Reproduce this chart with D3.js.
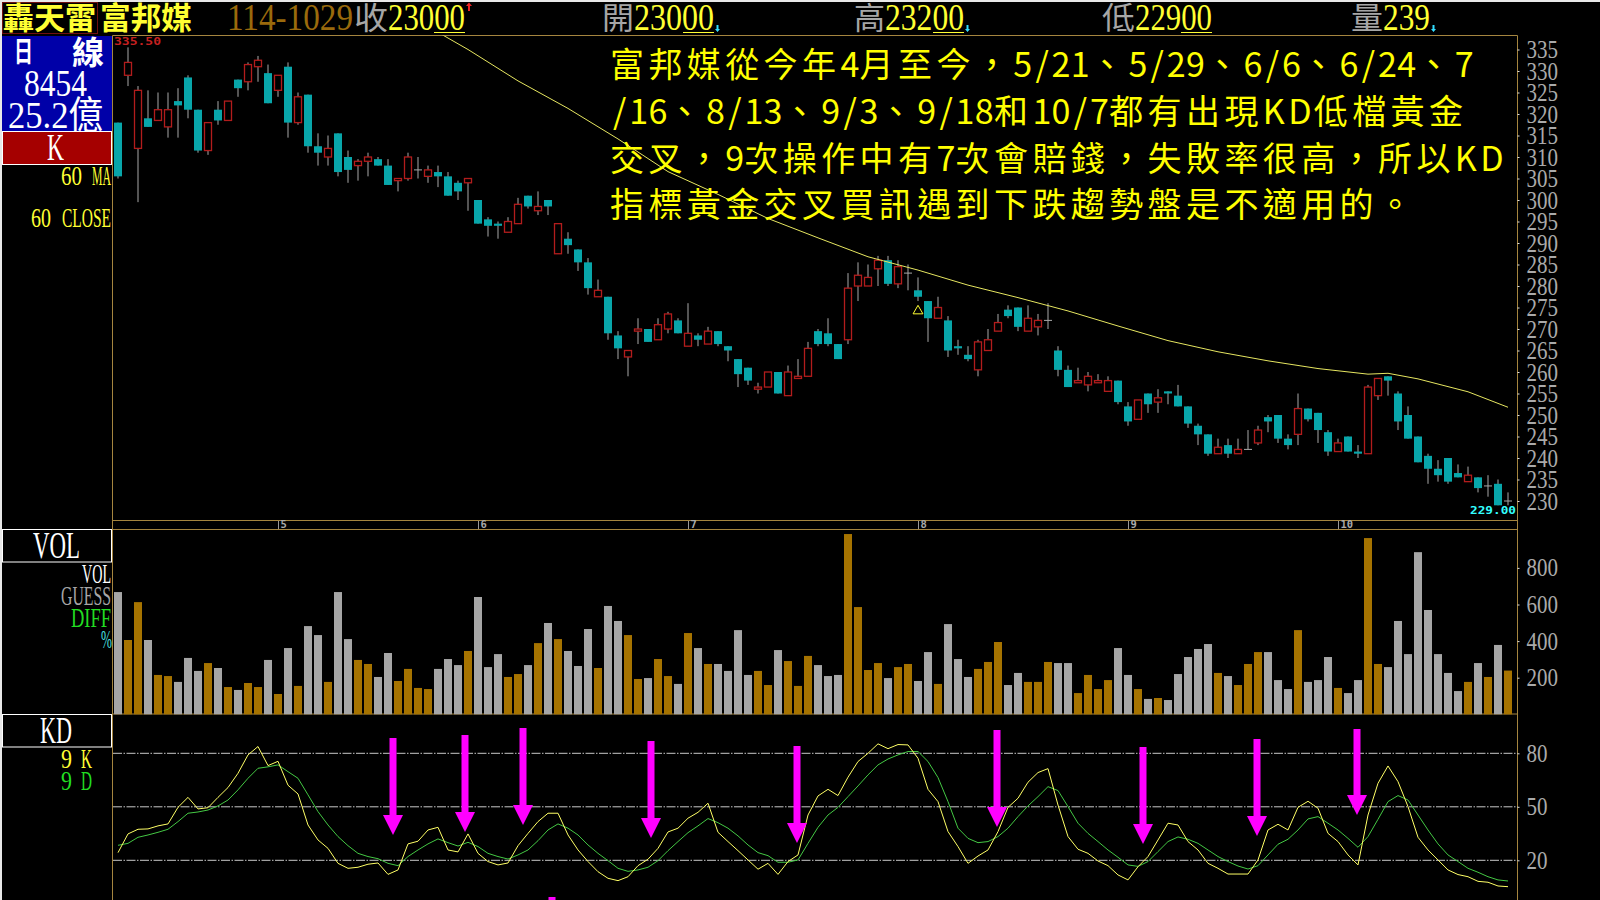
<!DOCTYPE html>
<html lang="zh-Hant">
<head>
<meta charset="utf-8">
<title>富邦媒 日線</title>
<style>
  html, body { margin: 0; padding: 0; background: #000; overflow: hidden; }
  svg { display: block; }
</style>
<script src="https://cdn.jsdelivr.net/npm/d3@7"></script>
</head>
<body>
<div id="chart"></div>
<script>
// values
const opens = [318,329,312,319,318.5,317,323,328.5,321,311.5,
  321,318.5,328,327.5,331,329.5,325.5,331,318,324.5,
  312.5,310,315.5,310,308,309,309.5,308,304.5,305,
  307,305.5,306.5,305.5,304,304,300,295.5,294.5,292.5,
  294.5,301,297.5,300,287.5,291,288.5,285.5,277.5,277.5,
  268.5,263.5,269.5,270,267.5,270,272,266,268.5,266.5,
  269.5,266,263,261,256,256.5,260,254.5,258.5,259,
  269.5,269,266.5,267.5,280,280,284,286,280.5,283,
  279,276.5,272.5,272,266,264,260.5,265,269.5,274.5,
  275,269.5,270.5,272,265,260.5,257.5,257,257.5,255.5,
  258,252,249,255,253,255.5,254.5,252,247.5,245.5,
  241,243,241,242,243.5,249.5,250,244.5,245.5,251.5,
  250.5,246,241.5,245,241.5,241,254.5,259,255,250,
  245,240.5,237.5,240,236.5,234.5,235.5,233.5,234,230];
const highs = [318,335.5,326.5,325.5,325,325,326,329,321,318,
  323,323,328,332,333.5,331.5,329,332,325,324.5,
  315.5,315,315.5,311.5,309.5,311,310,309.5,305,311,
  310,308,308,306.5,304.5,305,300,296,295,296,
  300.5,301,302,300,294.5,292.5,288.5,286.5,281.5,277.5,
  269.5,265,272.5,270,272.5,274,272.5,276,269,270.5,
  269.5,266,263,261,257.5,260,260,261.5,263,267,
  270,272.5,266.5,283,285.5,285,287,287,286,285,
  282,276.5,277.5,273,267.5,266,267.5,270,273.5,275.5,
  275,275.5,273.5,276,266,261.5,261,260,259.5,259,
  258,253,253.5,255,256,255.5,257,252,248,245.5,
  244.5,244.5,244.5,246.5,247.5,250,250,245.5,255,251.5,
  250.5,246.5,244.5,245,243,257,258.5,259,255.5,252,
  245,241,239.5,240,238.5,238,235.5,236,235,232];
const lows = [305,326.5,299.5,317,318.5,314.5,314.5,319,311,310.5,
  317.5,318.5,324,325.5,327.5,322.5,324,314.5,317.5,311,
  308,308,305.5,304,304.5,305.5,308,303.5,302,304.5,
  305,304,303,301,300,297.5,294.5,291.5,291,292.5,
  294.5,298,296.5,296.5,287.5,287.5,283.5,278,277.5,267.5,
  263,259,266.5,267,267.5,269,269,266,266,266.5,
  266,262.5,256.5,257,255,256.5,255,254.5,258.5,259,
  266,266,263,266.5,276.5,280,280,280,279.5,279,
  276.5,267,272.5,263.5,264,262.5,259,265,269.5,272.5,
  269.5,269.5,268.5,270,259,256.5,257.5,255.5,257.5,255.5,
  252.5,247.5,249,250.5,250.5,252.5,252,247,243,240.5,
  241,240,241,242,243,246,243.5,242,243,248.5,
  243.5,240.5,241.5,241.5,240,241,253.5,254.5,246.5,244.5,
  239,234,234.5,234,235.5,234.5,232,231,229,229];
const closes = [305.5,332,325.5,317,321,321,322,321,311.5,318,
  318.5,323,326,331.5,332.5,322.5,329,318,324,312.5,
  311,312,306.5,307,309,310,308,303.5,305,310,
  307,307,305.5,301,302,305,294.5,294,294,295,
  299,298.5,298.5,298.5,294.5,289.5,285.5,279.5,279,269,
  265.5,265,270,267,271,273.5,269,269,267.5,269.5,
  266.5,265,259.5,258,256.5,260,255,260,259,265.5,
  266.5,266.5,263,279.5,282.5,282,286,280.5,284.5,283,
  277.5,272.5,275,265,265.5,263,267,267.5,271.5,273,
  270.5,272.5,272,272,260.5,256.5,258,259,258,258,
  253,248.5,253.5,252.5,254,255,252,248,245.5,241,
  242.5,241,242,242,246.5,248.5,244.5,243,251.5,249,
  246.5,241.5,243.5,241.5,241,256.5,258.5,258,248.5,244.5,
  239,237.5,236,234.5,235.5,236,233,233.5,229,230];
const volumes = [668,406,613,406,215,209,177,308,237,280,
  253,149,133,171,149,297,111,362,155,482,
  433,177,668,411,297,275,204,335,182,248,
  144,138,248,302,269,346,641,258,329,204,
  220,269,389,499,411,346,264,466,253,592,
  510,433,193,198,302,209,166,444,362,275,
  275,237,460,215,237,160,351,291,155,319,
  269,209,215,985,586,242,280,198,258,275,
  182,340,166,493,302,204,248,286,395,160,
  226,177,177,286,280,280,116,215,138,187,
  362,215,138,84,89,78,220,313,357,384,
  226,209,160,275,340,340,187,138,460,177,
  187,313,144,116,187,963,275,258,510,329,
  886,570,329,226,127,177,280,204,379,239];
const kValues = [24.3,34.8,37.4,37.6,39.3,40.4,49.7,55.3,48.8,49.5,
  55.3,60.8,68.8,79.1,83.8,73.1,75.5,62.1,57.2,39.8,
  31.4,26.7,18.3,15.5,16.1,17.8,18.5,12.1,14.6,29.2,
  30.7,37,38.5,25.8,24.7,34.8,23.9,19.3,17.4,18.5,
  28.2,35.1,41.7,46.4,46.4,34.2,25.8,19.3,13.6,9.9,
  8.6,10.8,17,20.6,26.7,35.9,38,43.6,46.9,52,
  35.7,30.5,25.4,20.2,15,18.3,12.1,19.3,23,45.4,
  56.1,59.8,56.3,66.6,75.4,80,85.3,82.6,84.9,84.7,
  77.2,59.8,52.9,36.1,27.7,18.3,22.4,25.8,36.1,49.7,
  54.8,63.8,69.2,71.4,51,33.3,26.2,23.9,19.6,17,
  11.8,9,16.4,22.1,31.4,40.8,39.8,30.5,25.8,18.3,
  15.5,12.3,12.3,12.3,20.2,37,40.2,37,49.7,53.1,
  49.2,35.1,30.5,23,17.4,45.4,63.2,72.9,64.1,50.1,
  32.9,25.8,20.2,14.6,12,10.8,8.2,7.7,5.6,5.2];
const dValues = [28.4,29.5,32.9,34.2,35.7,37.4,41.7,46.4,47.1,48.2,
  50.5,53.8,59.5,66,71.6,72.4,73.5,69.7,66,56.7,
  47.3,39.8,33.3,28.2,23.9,22.1,20.9,18.3,17,22.1,
  25.8,29.2,32,29.9,28,30.1,27.7,23.9,22.1,20.7,
  23,25.8,31,37,40.4,38,34.2,28.6,23.9,19.8,
  15.5,13.8,14.6,16.1,19.8,25.4,30.5,35.5,39.3,43.4,
  41.1,38,33.7,28.6,24.3,22.6,18.9,18.9,20.2,29.5,
  38.5,45.4,49.7,55.7,61.7,67.9,73.5,76.8,79.1,81,
  81,75.4,66.4,52.9,38,32.3,29.9,30.5,33.3,38,
  44.5,50.5,55.7,61.3,59.1,50.1,40.8,35.1,30.5,25.8,
  21.7,17.4,16.6,19.3,24.9,30.5,33.1,31.8,29.5,25.8,
  22.1,19.3,16.8,15.1,17,23,29,31.8,37,43.2,
  44.5,40.8,37,32.3,27.3,33.3,43,52.9,56.3,53.8,
  45.4,37,29.2,23,19.3,15.5,13.3,10.8,9,8.4];

// 60 MA, read at these bars only
const maBars = [32,35,40,45,50,55,60,65,70,75,80,85,90,95,100,105,110,115,120,125,127,130,135,139];
const maValues = [339,335,327.7,321.3,314.2,306.6,301.3,295.7,291.2,286.8,283.7,280.2,277.3,274.2,270.7,267.3,264.7,262.6,260.8,259.5,259.7,258.4,255.4,251.8];

const priceTicks = d3.range(230, 336, 5);
const volumeTicks = [200, 400, 600, 800];
const kdLevels = [20, 50, 80];

const monthLabels = ['5', '6', '7', '8', '9', '10'];
const monthBars = [16, 36, 57, 80, 101, 122];

// buy signal arrows: bar position, KD value at the tip and at the tail
const arrowBars = [27.5, 34.7, 40.5, 53.3, 67.9, 87.9, 102.5, 113.9, 123.9, 43.4];
const arrowTips = [34.2, 35.9, 39.8, 32.5, 29.7, 38.7, 29.1, 33.6, 45.4, -40];
const arrowTails = [88.6, 90.3, 94.2, 86.9, 84.1, 93.1, 83.5, 88, 93.6, -0.6];

const noteLines = [
  '富邦媒從今年4月至今，5/21、5/29、6/6、6/24、7',
  '/16、8/13、9/3、9/18和10/7都有出現KD低檔黃金',
  '交叉，9次操作中有7次會賠錢，失敗率很高，所以KD',
  '指標黃金交叉買訊遇到下跌趨勢盤是不適用的。'
];

const WIDTH = 1600, HEIGHT = 900;
const LEFT = 112.5, RIGHT = 1517.5, TOP = 35.5;
const FRAME = '#a5853f', TEAL = '#08a6aa', RED = '#b21c1c', WICK = '#a8a8a8';
const BROWN = '#a67300', GREY = '#a6a6a6', YELLOW = '#ffff33';
const SERIF = '"Liberation Serif","Noto Sans CJK TC",serif';
const MONO = '"DejaVu Sans Mono",monospace';

const svg = d3.select('#chart').append('svg')
  .attr('width', WIDTH)
  .attr('height', HEIGHT)
  .style('background', '#000');

const x = d3.scaleLinear().domain([0, 139]).range([118, 1508]);
const yPrice = d3.scaleLinear().domain([230, 335]).range([501, 49.5]);
const yVol = d3.scaleLinear().domain([0, 1000]).range([714.3, 531.3]);
const yKd = d3.scaleLinear().domain([20, 80]).range([860.3, 753.3]);

// stretched bitmap-looking text: x..x2 is the width it has to fill
function label (text, xPos, x2, baseline, size, fill, opts) {
  opts = opts || {};
  return svg.append('text')
    .attr('x', xPos)
    .attr('y', baseline)
    .attr('textLength', x2 - xPos)
    .attr('lengthAdjust', 'spacingAndGlyphs')
    .attr('font-family', opts.family || SERIF)
    .attr('font-weight', opts.weight || 'normal')
    .attr('font-size', size)
    .attr('fill', fill)
    .text(text);
}

function frameLine (x1, y1, x2, y2) {
  svg.append('line')
    .attr('x1', x1).attr('y1', y1)
    .attr('x2', x2).attr('y2', y2)
    .attr('stroke', FRAME)
    .attr('stroke-width', 1);
}

// light edge of the screenshot
svg.append('rect').attr('width', WIDTH).attr('height', 2).attr('fill', '#e8e8e8');
svg.append('rect').attr('width', 2).attr('height', HEIGHT).attr('fill', '#e8e8e8');

// panel frames
frameLine(LEFT, TOP, RIGHT, TOP);
frameLine(LEFT, 520.5, RIGHT, 520.5);
frameLine(LEFT, 529.5, RIGHT, 529.5);
frameLine(LEFT, 714, RIGHT, 714);
frameLine(LEFT, TOP, LEFT, HEIGHT);
frameLine(RIGHT, TOP, RIGHT, HEIGHT);

// header
svg.append('rect')
  .attr('x', 2.5).attr('y', 2.5)
  .attr('width', 95).attr('height', 31)
  .attr('fill', 'none')
  .attr('stroke', '#701010');
label('轟天雷', 3, 96, 29, 31, YELLOW, {weight: 'bold'});
label('富邦媒', 100, 192, 29, 31, YELLOW, {weight: 'bold'});
label('114-1029', 227, 353, 30, 38, '#9a6a0c');

const quotes = [
  {name: '收', nameX: 354, valueX: 388, value: '23000', end: 465},
  {name: '開', nameX: 602, valueX: 634, value: '23000', end: 714},
  {name: '高', nameX: 854, valueX: 885, value: '23200', end: 964},
  {name: '低', nameX: 1102, valueX: 1135, value: '22900', end: 1212},
  {name: '量', nameX: 1351, valueX: 1383, value: '239', end: 1430}
];
quotes.forEach(function(q, i) {
  label(q.name, q.nameX, q.valueX, 29, 31, GREY);
  label(q.value, q.valueX, q.end, 30, 38, YELLOW);
  if (q.value.length === 5) {
    svg.append('line')
      .attr('x1', q.end - 31).attr('x2', q.end)
      .attr('y1', 32.5).attr('y2', 32.5)
      .attr('stroke', YELLOW);
  }
  // tiny up / down ticks beside the quotes
  if (i === 0) {
    svg.append('path')
      .attr('d', 'M' + (q.end + 1) + ',6L' + (q.end + 4) + ',2.5L' + (q.end + 7) + ',6Z' +
        'M' + (q.end + 3) + ',6h2v5h-2Z')
      .attr('fill', '#ee2222');
  } else if (q.name !== '低') {
    svg.append('path')
      .attr('d', 'M' + (q.end + 2.5) + ',25h2v4h-2Z' +
        'M' + (q.end + 1) + ',29L' + (q.end + 6) + ',29L' + (q.end + 3.5) + ',32Z')
      .attr('fill', '#33ddff');
  }
});

// left column
svg.append('rect').attr('x', 2).attr('y', 36).attr('width', 110).attr('height', 95).attr('fill', '#0000a8');
label('日', 14, 33, 62, 28, '#fff', {weight: 'bold'});
label('線', 72, 104, 64, 32, '#fff', {weight: 'bold'});
label('8454', 24, 87, 96, 38, '#fff');
label('25.2億', 8, 103, 128, 38, '#fff');
svg.append('rect')
  .attr('x', 2.5).attr('y', 131.5)
  .attr('width', 109).attr('height', 33)
  .attr('fill', '#a50000')
  .attr('stroke', '#fff');
label('K', 47, 64, 160, 37, '#fff');
label('60', 61, 82, 185, 28, YELLOW);
label('MA', 92, 111, 185, 28, YELLOW);
label('60', 31, 51, 227, 28, YELLOW);
label('CLOSE', 62, 111, 227, 28, YELLOW);

svg.append('rect')
  .attr('x', 2.5).attr('y', 529.5)
  .attr('width', 109).attr('height', 32.5)
  .attr('fill', '#000')
  .attr('stroke', '#fff');
label('VOL', 33, 80, 558, 38, '#fff');
label('VOL', 82, 111, 583, 28, '#fff');
label('GUESS', 61, 111, 605, 28, GREY);
label('DIFF', 71, 111, 627, 28, '#22dd22');
label('%', 101, 112, 648, 26, '#44dddd');

svg.append('rect')
  .attr('x', 2.5).attr('y', 714.5)
  .attr('width', 109).attr('height', 32.5)
  .attr('fill', '#000')
  .attr('stroke', '#fff');
label('KD', 40, 72, 743, 38, '#fff');
label('9', 61, 72, 768, 27, YELLOW);
label('K', 81, 92, 768, 27, YELLOW);
label('9', 61, 72, 790, 27, '#22dd22');
label('D', 81, 92, 790, 27, '#22dd22');

// right axes
function styleAxis (g) {
  g.select('.domain').remove();
  g.selectAll('.tick line').attr('stroke', '#ddd');
  g.selectAll('.tick text')
    .attr('fill', '#aaa')
    .attr('font-family', SERIF)
    .attr('font-size', 25)
    .attr('lengthAdjust', 'spacingAndGlyphs')
    .attr('textLength', function(d) { return String(d).length * 10.5; });
}
const axes = [
  d3.axisRight(yPrice).tickValues(priceTicks),
  d3.axisRight(yVol).tickValues(volumeTicks),
  d3.axisRight(yKd).tickValues(kdLevels)
];
axes.forEach(function(axis) {
  svg.append('g')
    .attr('transform', 'translate(' + RIGHT + ',0)')
    .call(axis.tickSize(2).tickPadding(7))
    .call(styleAxis);
});

// month strip
const months = svg.append('g').selectAll('g').data(monthLabels).enter().append('g')
  .attr('transform', function(d, i) { return 'translate(' + (x(monthBars[i]) + 0.5) + ',0)'; });
months.append('line')
  .attr('y1', 521).attr('y2', 529)
  .attr('stroke', '#999');
months.append('text')
  .attr('x', 2)
  .attr('y', 528)
  .attr('font-family', MONO)
  .attr('font-weight', 'bold')
  .attr('font-size', 10.5)
  .attr('fill', '#aaa')
  .text(function(d) { return d; });

// candles
const bars = d3.range(closes.length);
svg.append('clipPath').attr('id', 'price-clip')
  .append('rect')
  .attr('x', LEFT).attr('y', TOP)
  .attr('width', RIGHT - LEFT).attr('height', 520 - TOP);

const candles = svg.append('g').selectAll('g.candle').data(bars).enter().append('g')
  .attr('class', 'candle')
  .attr('transform', function(d) { return 'translate(' + x(d) + ',0)'; });

candles.append('line')
  .attr('y1', function(d) { return yPrice(highs[d]); })
  .attr('y2', function(d) { return yPrice(lows[d]); })
  .attr('stroke', WICK);

candles.filter(function(d) { return closes[d] < opens[d]; }).append('rect')
  .attr('x', -4)
  .attr('width', 8)
  .attr('y', function(d) { return yPrice(opens[d]); })
  .attr('height', function(d) { return yPrice(closes[d]) - yPrice(opens[d]); })
  .attr('fill', TEAL);

candles.filter(function(d) { return closes[d] > opens[d]; }).append('rect')
  .attr('x', -3.5)
  .attr('width', 7)
  .attr('y', function(d) { return yPrice(closes[d]); })
  .attr('height', function(d) { return yPrice(opens[d]) - yPrice(closes[d]); })
  .attr('fill', '#000')
  .attr('stroke', RED)
  .attr('stroke-width', 1.3);

candles.filter(function(d) { return closes[d] === opens[d]; }).append('line')
  .attr('x1', -4).attr('x2', 4)
  .attr('y1', function(d) { return yPrice(closes[d]); })
  .attr('y2', function(d) { return yPrice(closes[d]); })
  .attr('stroke', WICK);

// 60 MA
svg.append('path')
  .datum(maBars)
  .attr('clip-path', 'url(#price-clip)')
  .attr('fill', 'none')
  .attr('stroke', '#e6e660')
  .attr('stroke-width', 1)
  .attr('d', d3.line()
    .x(function(d) { return x(d); })
    .y(function(d, i) { return yPrice(maValues[i]); }));

label('335.50', 114, 161, 45, 10, '#c62020', {family: MONO, weight: 'bold'});
label('229.00', 1470, 1516, 514, 10, '#33ffff', {family: MONO, weight: 'bold'});
svg.append('path')
  .attr('d', d3.symbol().type(d3.symbolTriangle).size(42))
  .attr('transform', 'translate(' + x(80) + ',' + 311 + ')')
  .attr('fill', 'none')
  .attr('stroke', YELLOW);

// annotation sits on a fixed grid: full cell for CJK, half cell for digits
const NOTE_PITCH = 38.4;
function noteCell (ch) {
  if (ch === 'K' || ch === 'D') { return 25.5; }
  return ch.charCodeAt(0) < 128 ? NOTE_PITCH / 2 : NOTE_PITCH;
}
function notePositions (line) {
  let pos = 610;
  return Array.from(line).map(function(ch) {
    // the slash is narrower than its cell, keep it centred
    const at = ch === '/' ? pos + 3 : pos;
    pos += noteCell(ch);
    return at;
  }).join(' ');
}
svg.append('g').selectAll('text').data(noteLines).enter().append('text')
  .attr('x', notePositions)
  .attr('y', function(d, i) { return 77 + i * 46.8; })
  .attr('font-family', '"Noto Sans CJK TC",sans-serif')
  .attr('font-size', 34)
  .attr('fill', '#ffff00')
  .text(function(d) { return d; });

// volume
svg.append('g').selectAll('rect').data(bars).enter().append('rect')
  .attr('x', function(d) { return x(d) - 4; })
  .attr('width', 8)
  .attr('y', function(d) { return yVol(volumes[d]); })
  .attr('height', function(d) { return yVol(0) - yVol(volumes[d]); })
  .attr('fill', function(d) { return closes[d] >= opens[d] ? BROWN : GREY; });

// KD
svg.append('g').selectAll('line').data(kdLevels).enter().append('line')
  .attr('x1', LEFT + 0.5)
  .attr('x2', RIGHT)
  .attr('y1', function(d) { return yKd(d); })
  .attr('y2', function(d) { return yKd(d); })
  .attr('stroke', '#c8c8c8')
  .attr('stroke-dasharray', '9 1.5 1.5 1.5');

function kdLine (values) {
  return d3.line()
    .x(function(d) { return x(d); })
    .y(function(d) { return yKd(values[d]); });
}
svg.append('path').datum(bars)
  .attr('fill', 'none')
  .attr('stroke', '#44c844')
  .attr('d', kdLine(dValues));
svg.append('path').datum(bars)
  .attr('fill', 'none')
  .attr('stroke', '#ffff66')
  .attr('d', kdLine(kValues));

// magenta arrows
svg.append('g').selectAll('path').data(arrowBars).enter().append('path')
  .attr('fill', '#ff00ff')
  .attr('d', function(d, i) {
    const cx = x(d), tip = yKd(arrowTips[i]), tail = yKd(arrowTails[i]), neck = tip - 20;
    return 'M' + (cx - 3.5) + ',' + tail + 'L' + (cx + 3.5) + ',' + tail +
      'L' + (cx + 3.5) + ',' + neck + 'L' + (cx + 10) + ',' + neck +
      'L' + cx + ',' + tip + 'L' + (cx - 10) + ',' + neck +
      'L' + (cx - 3.5) + ',' + neck + 'Z';
  });
</script>
</body>
</html>
